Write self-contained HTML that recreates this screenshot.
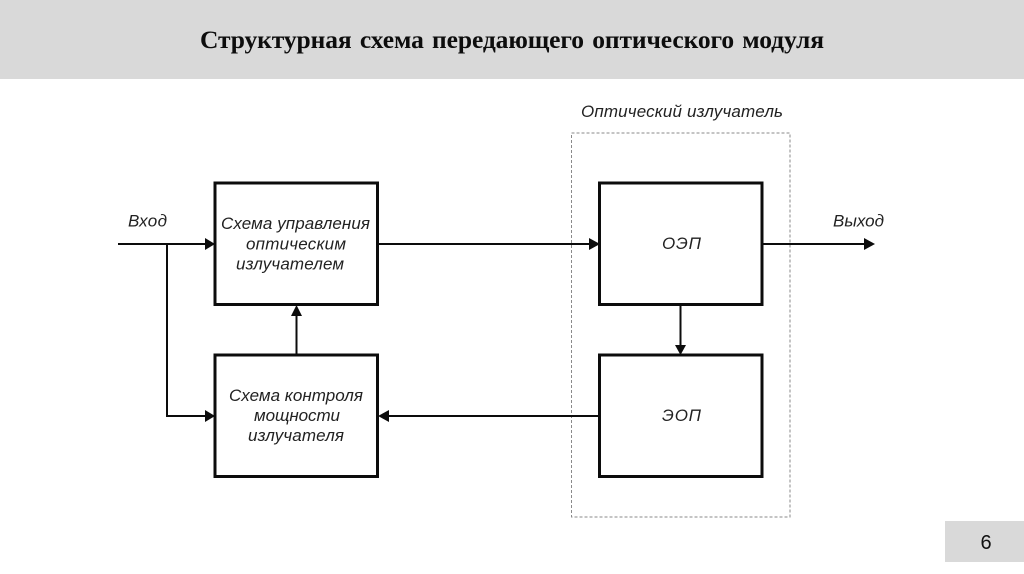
<!DOCTYPE html>
<html lang="ru">
<head>
<meta charset="utf-8">
<style>
html,body{margin:0;padding:0;background:#fff;width:1024px;height:574px;overflow:hidden}
svg{display:block}
.l{font-family:"Liberation Sans",sans-serif;font-style:italic;font-size:17px;fill:#222}
</style>
</head>
<body>
<svg width="1024" height="574" viewBox="0 0 1024 574" xmlns="http://www.w3.org/2000/svg">
<rect x="0" y="0" width="1024" height="79" fill="#d9d9d9"/>
<text x="200" y="48" font-family="'Liberation Serif',serif" font-weight="bold" font-size="25.500px" word-spacing="2" fill="#0d0d0d" textLength="624" lengthAdjust="spacing">Структурная схема передающего оптического модуля</text>

<rect x="945" y="521" width="79" height="41" fill="#d9d9d9"/>
<text x="986" y="549" text-anchor="middle" font-family="'Liberation Sans',sans-serif" font-size="20px" fill="#111">6</text>

<rect x="571.5" y="133" width="218.5" height="384" fill="none" stroke="#8a8a8a" stroke-width="1" stroke-dasharray="3 2"/>

<g fill="#fff" stroke="#0c0c0c" stroke-width="3">
<rect x="215" y="183" width="162.500" height="121.500"/>
<rect x="215" y="355" width="162.500" height="121.500"/>
<rect x="599.500" y="183" width="162.500" height="121.500"/>
<rect x="599.500" y="355" width="162.500" height="121.500"/>
</g>

<g fill="none" stroke="#0c0c0c" stroke-width="2">
<path d="M118 244H206"/>
<path d="M167 244V416H206"/>
<path d="M296.500 354V315"/>
<path d="M378 244H590"/>
<path d="M762 244H865"/>
<path d="M680.500 305V345"/>
<path d="M599 416H388"/>
</g>
<g fill="#0c0c0c">
<path d="M205 238L215 244L205 250Z"/>
<path d="M205 410L215 416L205 422Z"/>
<path d="M291 316L296.500 305L302 316Z"/>
<path d="M589 238L600 244L589 250Z"/>
<path d="M864 238L875 244L864 250Z"/>
<path d="M675 345L680.500 355L686 345Z"/>
<path d="M389 410L378 416L389 422Z"/>
</g>

<text class="l" x="128" y="226.500" textLength="39">Вход</text>
<text class="l" x="833" y="226.500" textLength="51">Выход</text>
<text class="l" x="581" y="117" textLength="202">Оптический излучатель</text>
<text class="l" x="221" y="229" textLength="149">Схема управления</text>
<text class="l" x="246" y="249.500" textLength="100">оптическим</text>
<text class="l" x="236" y="269.500" textLength="108">излучателем</text>
<text class="l" x="229" y="401" textLength="134">Схема контроля</text>
<text class="l" x="254" y="421" textLength="86">мощности</text>
<text class="l" x="248" y="441" textLength="96">излучателя</text>
<text class="l" x="662" y="249" textLength="39">ОЭП</text>
<text class="l" x="662" y="421" textLength="39">ЭОП</text>
</svg>
</body>
</html>
